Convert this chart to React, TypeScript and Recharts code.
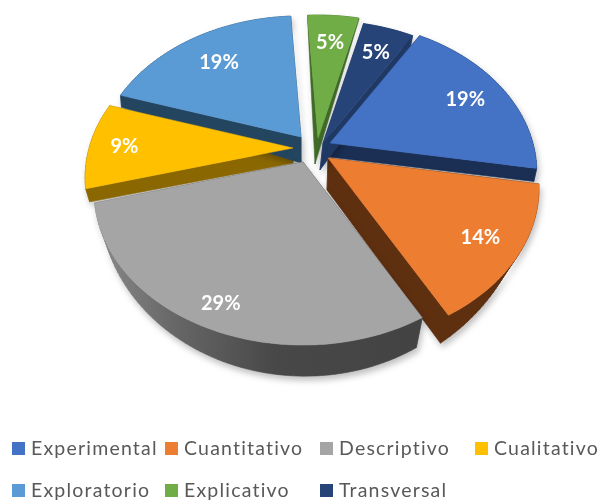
import React from "react";
import { PieChart, Pie, Legend } from "recharts";

const categories = ["Experimental", "Cuantitativo", "Descriptivo", "Cualitativo", "Exploratorio", "Explicativo", "Transversal"];
const shares = [19.1, 14.3, 28.8, 9.2, 19.1, 4.8, 4.8];
const topColors = ["#4472c4", "#ed7d31", "#a5a5a5", "#ffc000", "#5b9bd5", "#70ad47", "#264478"];
const wallColors = ["#1b2f55", "#5f3010", "url(#greyWall)", "#8a6700", "#234560", "#3f6a28", "#1f3864"];

// per-slice explosion, from the pie centre
const explode: [number, number][] = [[20, -7], [18, 8], [-7, 12], [-17, -2], [-9, -13], [8, -12], [13, -7]];
const radiusScale = [0.98, 1, 0.99, 0.985, 0.97, 0.985, 0.98];
// wall extrusion at slice tip, first arc corner, last arc corner
const wallTip: [number, number][] = [[-1, 14], [-1, 32], [0, 9], [0, 15], [0, 26], [-3, 26], [-3, 27]];
const wallStart: [number, number][] = [[0, 10], [-15, 13], [-6, 30], [4, 13], [1, 12], [0, 2], [0, 2]];
const wallEnd: [number, number][] = [[-3, 13], [-8, 28], [6, 10], [2, 8], [0, 10], [0, 2], [-3, 15]];
const labelReach = [0.78, 0.82, 0.87, 0.83, 0.74, 0.76, 0.78];

const CX = 310, CY = 150, RADIUS = 207, TILT = 0.72, PERSPECTIVE = 0.194;
const START_CLOCK = 31;

const chartData = categories.map((name, i) => ({ name, value: shares[i], fill: topColors[i] }));

type P = [number, number];
function project(cx: number, cy: number, r: number, clock: number, i: number, reach = 1): P {
  const t = (clock * Math.PI) / 180;
  const X = Math.sin(t) * reach, Y = Math.cos(t) * reach;
  const w = 1 + PERSPECTIVE * Y;
  const rr = r * radiusScale[i];
  return [cx + explode[i][0] + (rr * X) / w, cy + explode[i][1] - (rr * TILT * Y) / w];
}

function outline(p: any, i: number): P[] {
  const a = 90 - p.startAngle, b = 90 - p.endAngle;
  const n = Math.max(2, Math.ceil(Math.abs(b - a) / 1.5));
  const pts: P[] = [project(p.cx, p.cy, p.outerRadius, 0, i, 0)];
  for (let k = 0; k <= n; k++) pts.push(project(p.cx, p.cy, p.outerRadius, a + ((b - a) * k) / n, i));
  return pts;
}

const toPath = (pts: P[]) => "M" + pts.map((q) => q[0].toFixed(2) + "," + q[1].toFixed(2)).join("L") + "Z";

function TopFace(p: any) {
  const i = categories.indexOf(p.name);
  return <path d={toPath(outline(p, i))} fill={topColors[i]} stroke={topColors[i]} strokeWidth={0.5} />;
}

function WallFace(p: any) {
  const i = categories.indexOf(p.name);
  const pts = outline(p, i);
  const A = pts[0], B = pts[1], C = pts[pts.length - 1];
  const det = (B[1] - C[1]) * (A[0] - C[0]) + (C[0] - B[0]) * (A[1] - C[1]);
  const shift = (q: P): P => {
    const u = ((B[1] - C[1]) * (q[0] - C[0]) + (C[0] - B[0]) * (q[1] - C[1])) / det;
    const v = ((C[1] - A[1]) * (q[0] - C[0]) + (A[0] - C[0]) * (q[1] - C[1])) / det;
    const z = 1 - u - v;
    return [
      q[0] + u * wallTip[i][0] + v * wallStart[i][0] + z * wallEnd[i][0],
      q[1] + u * wallTip[i][1] + v * wallStart[i][1] + z * wallEnd[i][1],
    ];
  };
  let d = "";
  pts.forEach((q, k) => {
    const r = pts[(k + 1) % pts.length];
    const s1 = shift(q), s2 = shift(r);
    const quad: P[] = [q, r, s2, s1];
    let area = 0;
    quad.forEach((m, j) => {
      const o = quad[(j + 1) % 4];
      area += m[0] * o[1] - o[0] * m[1];
    });
    d += toPath(area > 0 ? quad : quad.slice().reverse());
  });
  const fill = wallColors[i];
  return <path d={d} fill={fill} stroke={fill} strokeWidth={0.6} style={{ filter: "drop-shadow(2px 4px 3px rgba(0,0,0,0.25))" }} />;
}

function PercentLabel(p: any) {
  const i = categories.indexOf(p.name);
  const clock = 90 - p.midAngle;
  const [x, y] = project(p.cx, p.cy, p.outerRadius, clock, i, labelReach[i]);
  return (
    <text x={x} y={y} fill="#ffffff" fontFamily="Lato, sans-serif" fontWeight={700} fontSize={20} textAnchor="middle" dominantBaseline="central">
      {Math.round(p.percent * 100)}%
    </text>
  );
}

const legendColumns = [12, 165, 320, 475];
const legendRows = [448, 490];

function LegendBlock() {
  return (
    <div style={{ position: "absolute", left: 0, top: 0, width: 601, height: 502, pointerEvents: "none" }}>
      {categories.map((name, i) => {
        const col = legendColumns[i % 4];
        const row = legendRows[Math.floor(i / 4)];
        return (
          <div key={name} style={{ position: "absolute", left: col, top: row - 12, height: 24, display: "flex", alignItems: "center", whiteSpace: "nowrap" }}>
            <span style={{ width: 13, height: 13, background: topColors[i], display: "inline-block", marginRight: 6 }} />
            <span style={{ fontFamily: "Lato, sans-serif", fontSize: 19.5, lineHeight: "24px", letterSpacing: 1.2, color: "#595959" }}>{name}</span>
          </div>
        );
      })}
    </div>
  );
}

export default function App() {
  return (
    <div style={{ position: "absolute", left: 0, top: 0, width: 601, height: 502, filter: "blur(0.6px)" }}>
      <PieChart width={601} height={502} margin={{ top: 0, right: 0, bottom: 0, left: 0 }}>
        <defs>
          <linearGradient id="greyWall" x1="0" y1="0" x2="1" y2="0">
            <stop offset="0" stopColor="#8a8a8a" />
            <stop offset="0.25" stopColor="#666666" />
            <stop offset="0.55" stopColor="#484848" />
            <stop offset="1" stopColor="#434343" />
          </linearGradient>
        </defs>
        <Pie data={chartData} dataKey="value" nameKey="name" cx={CX} cy={CY} outerRadius={RADIUS} startAngle={90 - START_CLOCK} endAngle={90 - START_CLOCK - 360} isAnimationActive={false} legendType="none" shape={WallFace} label={false} stroke="none" />
        <Pie data={chartData} dataKey="value" nameKey="name" cx={CX} cy={CY} outerRadius={RADIUS} startAngle={90 - START_CLOCK} endAngle={90 - START_CLOCK - 360} isAnimationActive={false} shape={TopFace} label={PercentLabel} labelLine={false} stroke="none" />
        <Legend content={LegendBlock} wrapperStyle={{ position: "absolute", left: 0, top: 0, width: 601, height: 502 }} />
      </PieChart>
    </div>
  );
}
